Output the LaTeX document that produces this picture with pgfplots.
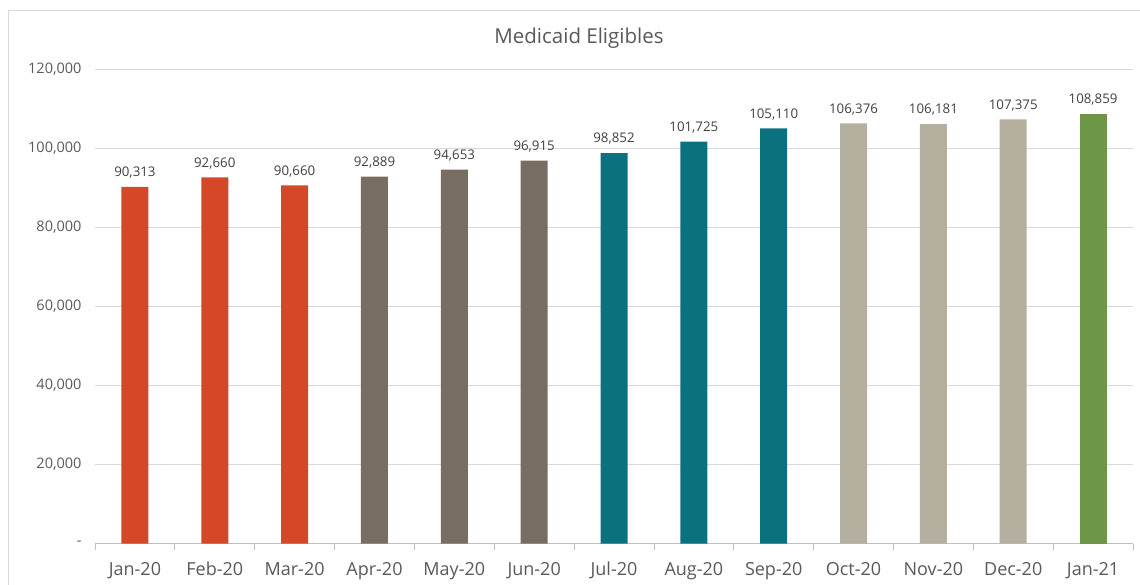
\documentclass[border=0pt]{standalone}
\usepackage{fontspec}
\setmainfont{Open Sans}
\usepackage{pgfplots}
\pgfplotsset{compat=1.18}
\definecolor{cRed}{RGB}{212,71,39}
\definecolor{cTaupe}{RGB}{120,109,99}
\definecolor{cTeal}{RGB}{11,113,126}
\definecolor{cLight}{RGB}{181,175,160}
\definecolor{cGreen}{RGB}{110,150,72}
\definecolor{cText}{RGB}{89,89,89}
\definecolor{cLabel}{RGB}{64,64,64}
\definecolor{cGrid}{RGB}{217,217,217}
\definecolor{cAxis}{RGB}{191,191,191}
\begin{document}
\begin{tikzpicture}[x=1pt,y=1pt]
\useasboundingbox (0,0) rectangle (1140,584);
\draw[cGrid, line width=1pt] (8,-5) -- (8,573) -- (1145,573);
\node[text=cText, font=\fontsize{20.5}{24}\selectfont] at (579,546) {Medicaid Eligibles};
\begin{axis}[
  at={(95pt,40.5pt)}, anchor=south west,
  scale only axis, width=1038pt, height=474pt,
  xmin=-0.5, xmax=12.5, ymin=0, ymax=120000,
  scaled y ticks=false,
  axis line style={draw=none},
  axis x line*=bottom,
  xtick={0,...,12},
  xticklabels={Jan-20,Feb-20,Mar-20,Apr-20,May-20,Jun-20,Jul-20,Aug-20,Sep-20,Oct-20,Nov-20,Dec-20,Jan-21},
  minor xtick={-0.5,0.5,...,12.5},
  major tick length=0pt,
  minor tick length=6pt,
  tick align=outside,
  minor tick style={cAxis, line width=0.8pt},
  x tick label style={font=\fontsize{18}{21}\selectfont, text=cText, yshift=-15pt},
  ytick={0,20000,...,120000},
  yticklabels={{-\hspace{11pt}},{20,000},{40,000},{60,000},{80,000},{100,000},{120,000}},
  y tick label style={font=\fontsize{14.5}{17}\selectfont, text=cText, xshift=-10pt},
  ymajorgrids, grid style={cGrid, line width=0.8pt},
  ybar, bar width=27pt, bar shift=0pt,
  nodes near coords,
  every node near coord/.append style={font=\fontsize{13.3}{15}\selectfont, text=cLabel, yshift=5pt},
  /pgf/number format/.cd, 1000 sep={,}, fixed, assume math mode=true,
]
\draw[cAxis, line width=0.8pt] (axis cs:-0.5,0) -- (axis cs:12.5,0);
\addplot[fill=cRed, draw=none] coordinates {(0,90313) (1,92660) (2,90660)};
\addplot[fill=cTaupe, draw=none] coordinates {(3,92889) (4,94653) (5,96915)};
\addplot[fill=cTeal, draw=none] coordinates {(6,98852) (7,101725) (8,105110)};
\addplot[fill=cLight, draw=none] coordinates {(9,106376) (10,106181) (11,107375)};
\addplot[fill=cGreen, draw=none] coordinates {(12,108859)};
\end{axis}
\end{tikzpicture}
\end{document}
